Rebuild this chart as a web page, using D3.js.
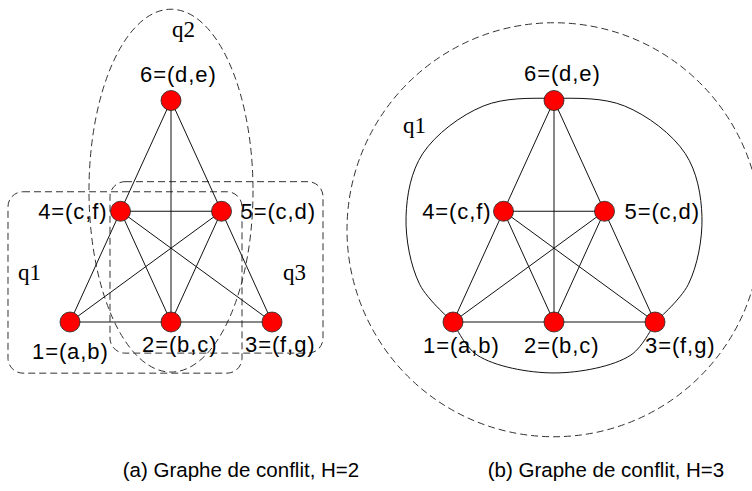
<!DOCTYPE html>
<html>
<head>
<meta charset="utf-8">
<script src="https://cdn.jsdelivr.net/npm/d3@7"></script>
<style>
  html, body { margin: 0; padding: 0; background: #fff; }
  svg { display: block; }
</style>
</head>
<body>
<svg id="chart" width="752" height="491"></svg>
<script>
// ---------- data ----------
const nodeIds    = [1, 2, 3, 4, 5, 6];
const nodeLabels = ["1=(a,b)", "2=(b,c)", "3=(f,g)", "4=(c,f)", "5=(c,d)", "6=(d,e)"];
const nodeCol    = [0, 1, 2, 0.5, 1.5, 1];   // layout column (graph units)
const nodeRow    = [0, 0, 0, 1, 1, 2];       // layout row (graph units)
const edges = [[6,4],[6,5],[6,2],[4,5],[4,1],[4,2],[4,3],[5,1],[5,2],[5,3],[1,2],[2,3]];
const captions = ["(a) Graphe de conflit, H=2", "(b) Graphe de conflit, H=3"];
const cliqueLabelsA = ["q1", "q2", "q3"];
const cliqueLabelsB = ["q1"];
// solid closed curve of graph (b), in graph units: upper arc (1 -> 6 -> 3) and lower arc (1 -> 3)
const upperCol = [0, -0.33, -0.465, -0.30, 0.30, 1.0, 1.70, 2.30, 2.465, 2.33, 2];
const upperRow = [0, 0.34, 0.95, 1.52, 1.95, 2.02, 1.95, 1.52, 0.95, 0.34, 0];
const lowerCol = [0, 0.238, 1.0, 1.762, 2];
const lowerRow = [0, -0.298, -0.460, -0.298, 0];

const nodes = nodeIds.map((id, i) => ({id, label: nodeLabels[i], c: nodeCol[i], r: nodeRow[i]}));
const byId = new Map(nodes.map(n => [n.id, n]));

// ---------- drawing ----------
const svg = d3.select("#chart");
const FONT = "'Liberation Sans', Arial, Helvetica, sans-serif";
const SERIF = "'Liberation Serif', 'Times New Roman', serif";

const y = d3.scaleLinear().domain([0, 2]).range([322, 100.5]);
const xA = d3.scaleLinear().domain([0, 2]).range([70, 272]);
const xB = d3.scaleLinear().domain([0, 2]).range([453, 655]);

const dashStyle = g => g.attr("fill", "none").attr("stroke", "#333").attr("stroke-width", 1).attr("stroke-dasharray", "7,4");

function drawGraph(g, x, labelPlace, extra) {
  g.append("g").selectAll("line").data(edges).join("line")
    .attr("x1", d => x(byId.get(d[0]).c)).attr("y1", d => y(byId.get(d[0]).r))
    .attr("x2", d => x(byId.get(d[1]).c)).attr("y2", d => y(byId.get(d[1]).r))
    .attr("stroke", "#111").attr("stroke-width", 1);
  if (extra) extra(g);
  g.append("g").selectAll("circle").data(nodes).join("circle")
    .attr("cx", d => x(d.c)).attr("cy", d => y(d.r)).attr("r", 10)
    .attr("fill", "#ff0000").attr("stroke", "#222").attr("stroke-width", 0.8);
  g.append("g").selectAll("text").data(nodes).join("text")
    .attr("x", d => x(d.c) + labelPlace[d.id][0])
    .attr("y", d => y(d.r) + labelPlace[d.id][1])
    .attr("text-anchor", d => labelPlace[d.id][2] || "start")
    .attr("font-family", FONT).attr("font-size", 22).attr("letter-spacing", 0.9)
    .attr("fill", "#000")
    .text(d => d.label);
}

// ----- graph (a) -----
const gA = svg.append("g");
gA.append("ellipse")
  .attr("cx", xA(1)).attr("cy", y(1.186))
  .attr("rx", xA(0.812) - xA(0)).attr("ry", y(0) - y(1.638))
  .call(dashStyle);
gA.append("rect")
  .attr("x", xA(-0.614)).attr("y", y(1.176))
  .attr("width", xA(1.703) - xA(-0.614)).attr("height", y(-0.462) - y(1.176))
  .attr("rx", 15).attr("ry", 15).call(dashStyle);
gA.append("rect")
  .attr("x", xA(0.396)).attr("y", y(1.267))
  .attr("width", xA(2.505) - xA(0.396)).attr("height", y(-0.281) - y(1.267))
  .attr("rx", 15).attr("ry", 15).call(dashStyle);

drawGraph(gA, xA, {
  6: [-31, -19], 4: [-13, 8, "end"], 5: [19, 8],
  1: [-38, 37], 2: [-29, 30], 3: [-27, 30]
});

const qPosA = [[18, 280], [172, 37], [283, 280]];
gA.append("g").selectAll("text").data(cliqueLabelsA).join("text")
  .attr("x", (d, i) => qPosA[i][0]).attr("y", (d, i) => qPosA[i][1])
  .attr("font-family", SERIF).attr("font-size", 23).attr("fill", "#000")
  .text(d => d);

// ----- graph (b) -----
const gB = svg.append("g");
gB.append("ellipse")
  .attr("cx", xB(1)).attr("cy", y(0.833))
  .attr("rx", 207).attr("ry", 207)
  .call(dashStyle);

const curveLine = d3.line().curve(d3.curveCatmullRom.alpha(0.5));
drawGraph(gB, xB, {
  6: [-30, -20], 4: [-12, 8, "end"], 5: [20, 8],
  1: [-30, 31], 2: [-30, 31], 3: [-10, 31]
}, g => {
  g.append("path")
    .attr("d", curveLine(upperCol.map((c, i) => [xB(c), y(upperRow[i])])))
    .attr("fill", "none").attr("stroke", "#111").attr("stroke-width", 1);
  g.append("path")
    .attr("d", curveLine(lowerCol.map((c, i) => [xB(c), y(lowerRow[i])])))
    .attr("fill", "none").attr("stroke", "#111").attr("stroke-width", 1);
});

gB.append("g").selectAll("text").data(cliqueLabelsB).join("text")
  .attr("x", 403).attr("y", 133)
  .attr("font-family", SERIF).attr("font-size", 23).attr("fill", "#000")
  .text(d => d);

// ----- captions -----
const capX = [241, 606];
svg.append("g").selectAll("text").data(captions).join("text")
  .attr("x", (d, i) => capX[i]).attr("y", 477)
  .attr("text-anchor", "middle")
  .attr("font-family", FONT).attr("font-size", 20.5).attr("fill", "#000")
  .text(d => d);
</script>
</body>
</html>
